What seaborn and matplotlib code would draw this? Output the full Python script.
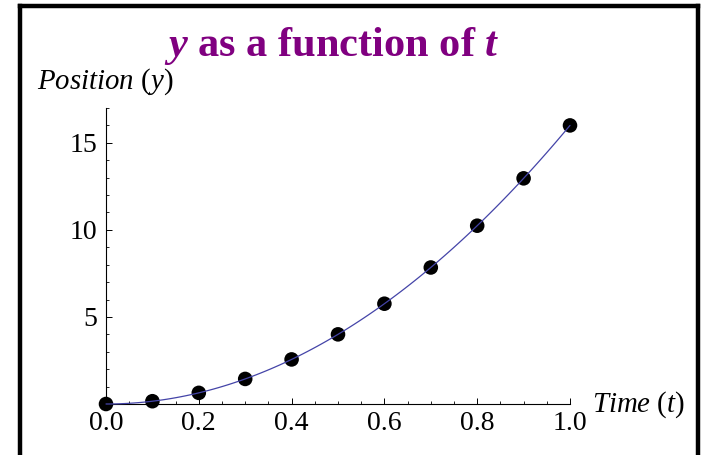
import matplotlib
matplotlib.use("Agg")
import matplotlib.pyplot as plt
from matplotlib.lines import Line2D
from matplotlib.ticker import MultipleLocator
import seaborn as sns
import pandas as pd

# Data
time_t = [0.0, 0.1, 0.2, 0.3, 0.4, 0.5, 0.6, 0.7, 0.8, 0.9, 1.0]
position_y = [0.0, 0.16, 0.64, 1.44, 2.56, 4.0, 5.76, 7.84, 10.24, 12.96, 16.0]
x_ticks = [0.0, 0.2, 0.4, 0.6, 0.8, 1.0]
x_tick_labels = ["0.0", "0.2", "0.4", "0.6", "0.8", "1.0"]
y_ticks = [5, 10, 15]
y_tick_labels = ["5", "10", "15"]

df = pd.DataFrame({"t": time_t, "y": position_y})

sns.set_theme(style="white")
plt.rcParams["font.family"] = ["Liberation Serif", "DejaVu Serif"]
plt.rcParams["mathtext.fontset"] = "custom"
plt.rcParams["mathtext.rm"] = "Liberation Serif"
plt.rcParams["mathtext.it"] = "Liberation Serif:italic"
plt.rcParams["mathtext.bf"] = "Liberation Serif:bold"
plt.rcParams["mathtext.bfit"] = "Liberation Serif:bold:italic"

W, H = 704, 455
fig = plt.figure(figsize=(W / 100, H / 100), dpi=100)
fig.patch.set_facecolor("white")
ax = fig.add_axes([106 / W, 1 - 404 / H, (570 - 106) / W, (404 - 108) / H])
ax.set_facecolor("white")

sns.scatterplot(data=df, x="t", y="y", ax=ax, s=110, color="black",
                edgecolor="none", linewidth=0, clip_on=False, zorder=3)
sns.regplot(data=df, x="t", y="y", ax=ax, order=2, ci=None, scatter=False,
            line_kws=dict(color="#4444a8", lw=0.9, zorder=4, clip_on=False))

ax.set_xlim(0, 1.0)
ax.set_ylim(0, 17)
ax.set_xlabel("")
ax.set_ylabel("")
ax.set_xticks(x_ticks)
ax.set_xticklabels(x_tick_labels)
ax.set_yticks(y_ticks)
ax.set_yticklabels(y_tick_labels)
ax.xaxis.set_minor_locator(MultipleLocator(0.05))
ax.yaxis.set_minor_locator(MultipleLocator(1))

for s in ["top", "right"]:
    ax.spines[s].set_visible(False)
for s in ["left", "bottom"]:
    ax.spines[s].set_color("black")
    ax.spines[s].set_linewidth(0.8)

ax.tick_params(which="major", direction="in", length=4.5, width=0.7,
               color="black", labelsize=20, labelcolor="black",
               bottom=True, left=True)
ax.tick_params(axis="x", which="major", pad=5)
ax.tick_params(axis="y", which="major", pad=6)
ax.tick_params(which="minor", direction="in", length=2.3, width=0.6,
               color="black", bottom=True, left=True)

# Title and axis labels
fig.text(332 / W, 1 - 56 / H, r"$\mathbfit{y}$ as a function of $\mathbfit{t}$",
         ha="center", va="baseline", fontsize=30.5, fontweight="bold",
         color="#800080")
fig.text(37 / W, 1 - 89 / H, r"$\mathit{Position}$ ($\mathit{y}$)",
         ha="left", va="baseline", fontsize=20.8, color="black")
fig.text(592 / W, 1 - 412 / H, r"$\mathit{Time}$ ($\mathit{t}$)",
         ha="left", va="baseline", fontsize=20.8, color="black")

# Frame border (left, top, right)
lw = 3.2
fig.add_artist(Line2D([20 / W, 20 / W], [0, 1 - 5.5 / H], color="black",
                      lw=lw, transform=fig.transFigure, solid_capstyle="projecting"))
fig.add_artist(Line2D([20 / W, 698 / W], [1 - 5.5 / H, 1 - 5.5 / H], color="black",
                      lw=lw, transform=fig.transFigure, solid_capstyle="projecting"))
fig.add_artist(Line2D([698 / W, 698 / W], [0, 1 - 5.5 / H], color="black",
                      lw=lw, transform=fig.transFigure, solid_capstyle="projecting"))

fig.savefig("out.png", dpi=100, facecolor="white")
